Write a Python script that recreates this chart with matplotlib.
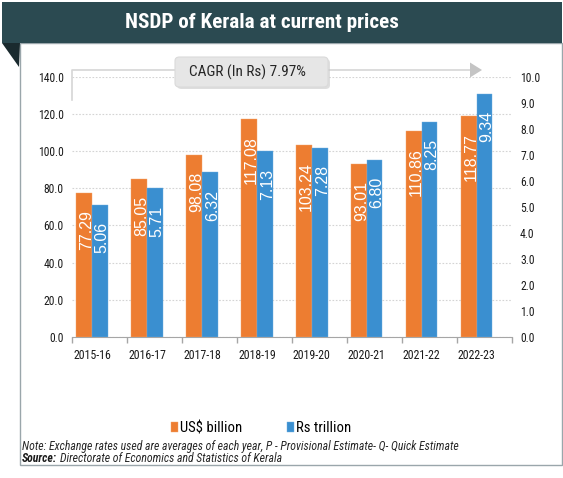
import matplotlib
matplotlib.use("Agg")
import matplotlib.pyplot as plt
import numpy as np
from matplotlib import font_manager as fm
from matplotlib.patches import Rectangle, Polygon, FancyBboxPatch
from matplotlib.lines import Line2D

# data
years = ['2015-16', '2016-17', '2017-18', '2018-19', '2019-20', '2020-21', '2021-22', '2022-23']
usd_billion = [77.29, 85.05, 98.08, 117.08, 103.24, 93.01, 110.86, 118.77]
rs_trillion = [5.06, 5.71, 6.32, 7.13, 7.28, 6.80, 8.25, 9.34]
usd_labels = ['77.29', '85.05', '98.08', '117.08', '103.24', '93.01', '110.86', '118.77']
rs_labels = ['5.06', '5.71', '6.32', '7.13', '7.28', '6.80', '8.25', '9.34']
cagr_text = 'CAGR (In Rs) 7.97%'

# the original uses an Arial Narrow look; take a narrow face if one is installed
fonts = fm.fontManager.ttflist
have = {f.name for f in fonts}
narrow, stretch = None, 'normal'
for cand in ['Liberation Sans Narrow', 'Arial Narrow', 'Nimbus Sans Narrow', 'Helvetica Narrow',
             'Roboto Condensed', 'Open Sans Condensed', 'Noto Sans Condensed', 'Archivo Narrow',
             'PT Sans Narrow', 'Fira Sans Condensed', 'IBM Plex Sans Condensed',
             'Ubuntu Condensed', 'DejaVu Sans Condensed']:
    if cand in have:
        narrow = cand
        break
if narrow is None:
    for fam in ['Roboto', 'Noto Sans', 'Open Sans', 'DejaVu Sans']:
        if any(f.name == fam and f.stretch in ('condensed', 'semi-condensed') for f in fonts):
            narrow, stretch = fam, 'condensed'
            break
k = 1.0
if narrow is None:
    narrow, k = 'Liberation Sans', 0.86

plt.rcParams['font.family'] = [narrow, 'Liberation Sans', 'DejaVu Sans']
plt.rcParams['font.stretch'] = stretch

W, H = 563, 478
ORANGE = '#ED7D31'
BLUE = '#3A8FD0'


def px(x, y):
    # pixel position (from top-left) -> figure fraction
    return x / W, 1 - y / H


fig = plt.figure(figsize=(W / 100, H / 100), dpi=100)

# banner, fold and panel frame
fig.add_artist(Rectangle(px(19.5, 465), 542 / W, 422 / H, transform=fig.transFigure,
                         facecolor='white', edgecolor='#9aa6ab', lw=1.0, zorder=0))
fig.add_artist(Rectangle(px(2, 43), 560 / W, 41 / H, transform=fig.transFigure,
                         facecolor='#2b4a51', edgecolor='none', zorder=1))
fig.add_artist(Polygon([px(2, 43), px(20, 43), px(19, 67)], closed=True,
                       transform=fig.transFigure, facecolor='#1a2a2e', edgecolor='none', zorder=1))
fig.text(*px(262, 23), 'NSDP of Kerala at current prices', color='white', fontsize=15.2 * k,
         fontweight='bold', ha='center', va='center', zorder=2)

# axes
l, b = px(72, 337)
r, t = px(511.7, 76.7)
ax = fig.add_axes([l, b, r - l, t - b])
ax2 = ax.twinx()

x = np.arange(len(years))
w = 0.285
bars1 = ax.bar(x - w / 2, usd_billion, width=w, color=ORANGE, edgecolor='#f3a46e', lw=0.3, zorder=3)
bars2 = ax2.bar(x + w / 2, rs_trillion, width=w, color=BLUE, edgecolor='#6fb0e2', lw=0.3, zorder=3)

for a, bars, labs in ((ax, bars1, usd_labels), (ax2, bars2, rs_labels)):
    for bar, lab in zip(bars, labs):
        a.annotate(lab, (bar.get_x() + bar.get_width() / 2, bar.get_height()),
                   xytext=(1.8, -12.3), textcoords='offset points', rotation=90,
                   ha='center', va='top', color='white', fontsize=11.5,
                   family=['Liberation Sans', 'DejaVu Sans'], fontstretch='normal', zorder=4)

ax.set_xlim(-0.364, len(years) - 0.38)
ax.set_ylim(0, 140)
ax2.set_ylim(0, 10)
ax.set_yticks(np.arange(0, 141, 20))
ax.set_yticklabels([f'{v:.1f}' for v in np.arange(0, 141, 20)])
ax2.set_yticks(np.arange(0, 11, 1))
ax2.set_yticklabels([f'{v:.1f}' for v in np.arange(0, 11, 1)])

# category boundaries as tick marks, names at group centres
ax.set_xticks(np.arange(len(years) + 1) - 0.364)
ax.set_xticklabels([])
ax.set_xticks(x, minor=True)
ax.set_xticklabels(years, minor=True)
ax.tick_params(axis='x', which='major', length=4, color='#a6a6a6', width=1)
ax.tick_params(axis='x', which='minor', length=0, pad=8.5, labelsize=8.6 * k, labelcolor='#1a1a1a')
ax.tick_params(axis='y', length=0, pad=6, labelsize=8.4 * k, labelcolor='#1a1a1a')
ax2.tick_params(axis='y', length=0, pad=6, labelsize=8.4 * k, labelcolor='#1a1a1a')

ax.grid(axis='y', color='#d4d4d4', linestyle=(0, (1.5, 1.5)), lw=0.8, zorder=0)
ax.set_axisbelow(True)
for s in ('top', 'left', 'right'):
    ax.spines[s].set_visible(False)
ax.spines['bottom'].set_color('#a6a6a6')
for s in ax2.spines.values():
    s.set_visible(False)
ax.set_facecolor('none')
ax2.set_facecolor('none')

# CAGR arrow and label box
fig.add_artist(Line2D([px(72, 100)[0], px(72, 70)[0], px(471, 70)[0]],
                      [px(72, 100)[1], px(72, 70)[1], px(471, 70)[1]],
                      transform=fig.transFigure, color='#d6d6d6', lw=1.2, zorder=5))
fig.add_artist(Polygon([px(470, 62.5), px(482, 70), px(470, 77.5)], closed=True,
                       transform=fig.transFigure, facecolor='#c4c4c4', edgecolor='none', zorder=5))
bx, by = px(175, 87)
fig.add_artist(FancyBboxPatch((bx + 2 / W, by - 2 / H), 153 / W, 30 / H,
                              boxstyle='round,pad=0,rounding_size=0.008',
                              transform=fig.transFigure, facecolor='#c9c9c9',
                              edgecolor='none', alpha=0.6, zorder=5))
fig.add_artist(FancyBboxPatch((bx, by), 153 / W, 30 / H,
                              boxstyle='round,pad=0,rounding_size=0.008',
                              transform=fig.transFigure, facecolor='#e6e6e6',
                              edgecolor='#dadada', lw=0.8, zorder=6))
fig.text(*px(247, 72.5), cagr_text, fontsize=11 * k, ha='center', va='center',
         color='#262626', zorder=7)

# legend
fig.legend([bars1, bars2], ['US$ billion', 'Rs trillion'], loc='center',
           bbox_to_anchor=px(261, 428), ncol=2, frameon=False, fontsize=10.6 * k,
           handlelength=0.5, handleheight=0.7, handletextpad=0.15, columnspacing=3.0)

# footnotes
fig.text(*px(22, 446.5), 'Note: Exchange rates used are averages of each year, P - Provisional Estimate- Q- Quick Estimate',
         fontsize=8.5 * k, style='italic', ha='left', va='center', color='#262626')
src = fig.text(*px(22, 458), 'Source:', fontsize=8.5 * k, style='italic', fontweight='bold',
               ha='left', va='center', color='#1a1a1a')
rest = fig.text(*px(22, 458), 'Directorate of Economics and Statistics of Kerala', fontsize=8.5 * k,
                style='italic', ha='left', va='center', color='#262626')
fig.canvas.draw()
bb = src.get_window_extent()
rest.set_position(((bb.x1 + 3) / W, px(0, 458)[1]))

fig.savefig('out.png', dpi=100)
